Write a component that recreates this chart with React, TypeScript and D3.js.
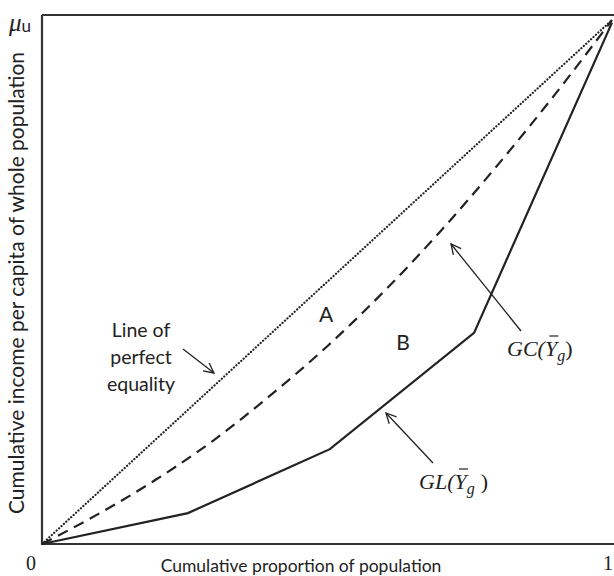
import React, { useLayoutEffect, useRef, useState } from "react";
import * as d3 from "d3";

const equalityLine: [number, number][] = [[0, 0], [1, 1]];
const gcCurve: [number, number][] = [
  [0, 0], [0.1, 0.058], [0.2, 0.123], [0.3, 0.197], [0.4, 0.283], [0.5, 0.377],
  [0.6, 0.482], [0.7, 0.598], [0.8, 0.724], [0.9, 0.858], [1, 1],
];
const glCurve: [number, number][] = [
  [0, 0], [0.256, 0.059], [0.505, 0.181], [0.758, 0.403], [1, 0.995],
];
const xTickLabels = ["0", "1"];

const W = 614, H = 576;
const x = d3.scaleLinear().domain([0, 1]).range([42, 612]);
const y = d3.scaleLinear().domain([0, 1]).range([544, 20]);

const sans = "Lato, 'Open Sans', sans-serif";
const serif = "'Liberation Serif', 'DejaVu Serif', serif";
const col = "#222";

function MathLabel({ x0, y0, name, gap }: { x0: number; y0: number; name: string; gap: number }) {
  const yRef = useRef<SVGTSpanElement>(null);
  const [bar, setBar] = useState<{ x: number; w: number; y: number } | null>(null);
  useLayoutEffect(() => {
    const el = yRef.current;
    if (el) {
      const b = el.getBBox();
      setBar({ x: b.x + b.width * 0.3, w: b.width * 0.6, y: b.y });
    }
  }, []);
  return (
    <g>
      <text x={x0} y={y0} fontFamily={serif} fontSize={22} fontStyle="italic" fill={col}>
        {name}(<tspan ref={yRef}>Y</tspan><tspan fontSize={16} dy={5}>g</tspan>
        <tspan dy={-5} dx={gap} fontStyle="normal">)</tspan>
      </text>
      {bar && <line x1={bar.x} x2={bar.x + bar.w} y1={bar.y} y2={bar.y} stroke={col} strokeWidth={1.2} />}
    </g>
  );
}

export default function App() {
  const lin = d3.line<[number, number]>().x(d => x(d[0])).y(d => y(d[1]));
  const smooth = d3.line<[number, number]>().x(d => x(d[0])).y(d => y(d[1])).curve(d3.curveMonotoneX);
  return (
    <svg width={W} height={H} style={{ position: "absolute", left: 0, top: 0, background: "#fff" }}>
      <defs>
        <marker id="arr" viewBox="0 0 12 12" refX="11" refY="6" markerWidth="12" markerHeight="12" markerUnits="userSpaceOnUse" orient="auto">
          <path d="M1,1 L11,6 L1,11" fill="none" stroke={col} strokeWidth={1.3} />
        </marker>
      </defs>
      {/* frame */}
      <path d={`M42,15 L614,15 M42,15 L42,544 M42,544 L614,544`} stroke="#333" strokeWidth={2.2} fill="none" />
      {/* equality line */}
      <path d={lin(equalityLine) || ""} stroke={col} strokeWidth={2.2} strokeDasharray="0.1 3.2" strokeLinecap="round" fill="none" />
      {/* GC dashed */}
      <path d={smooth(gcCurve) || ""} stroke={col} strokeWidth={2.2} strokeDasharray="11 7" fill="none" />
      {/* GL solid */}
      <path d={lin(glCurve) || ""} stroke={col} strokeWidth={2.2} fill="none" />
      {/* axis labels */}
      <text x={x(0) - 11} y={570} fontFamily={serif} fontSize={20} textAnchor="middle" fill={col}>{xTickLabels[0]}</text>
      <text x={613} y={570} fontFamily={serif} fontSize={20} textAnchor="end" fill={col}>{xTickLabels[1]}</text>
      <text x={301} y={572} fontFamily={sans} fontSize={17.5} textAnchor="middle" fill={col}>Cumulative proportion of population</text>
      <text transform="translate(24,283) rotate(-90)" fontFamily={sans} fontSize={21} textAnchor="middle" fill={col}>Cumulative income per capita of whole population</text>
      <text x={9} y={31} fontFamily={serif} fontSize={25} fontStyle="italic" fill={col}>μ<tspan fontFamily={sans} fontStyle="normal" fontSize={17} dy={1}>u</tspan></text>
      {/* Line of perfect equality */}
      <g fontFamily={sans} fontSize={19.5} textAnchor="middle" fill={col}>
        <text x={141} y={337}>Line of</text>
        <text x={141} y={364}>perfect</text>
        <text x={141} y={391}>equality</text>
      </g>
      <line x1={183} y1={349} x2={214} y2={373} stroke={col} strokeWidth={1.3} markerEnd="url(#arr)" />
      {/* A, B */}
      <text x={326} y={322} fontFamily={sans} fontSize={21} textAnchor="middle" fill={col}>A</text>
      <text x={403} y={350} fontFamily={sans} fontSize={21} textAnchor="middle" fill={col}>B</text>
      {/* GC label */}
      <line x1={521} y1={331} x2={451} y2={244} stroke={col} strokeWidth={1.3} markerEnd="url(#arr)" />
      <MathLabel x0={507} y0={356} name="GC" gap={0} />
      {/* GL label */}
      <line x1={433} y1={463} x2={386} y2={413} stroke={col} strokeWidth={1.3} markerEnd="url(#arr)" />
      <MathLabel x0={419} y0={489} name="GL" gap={6} />
    </svg>
  );
}
